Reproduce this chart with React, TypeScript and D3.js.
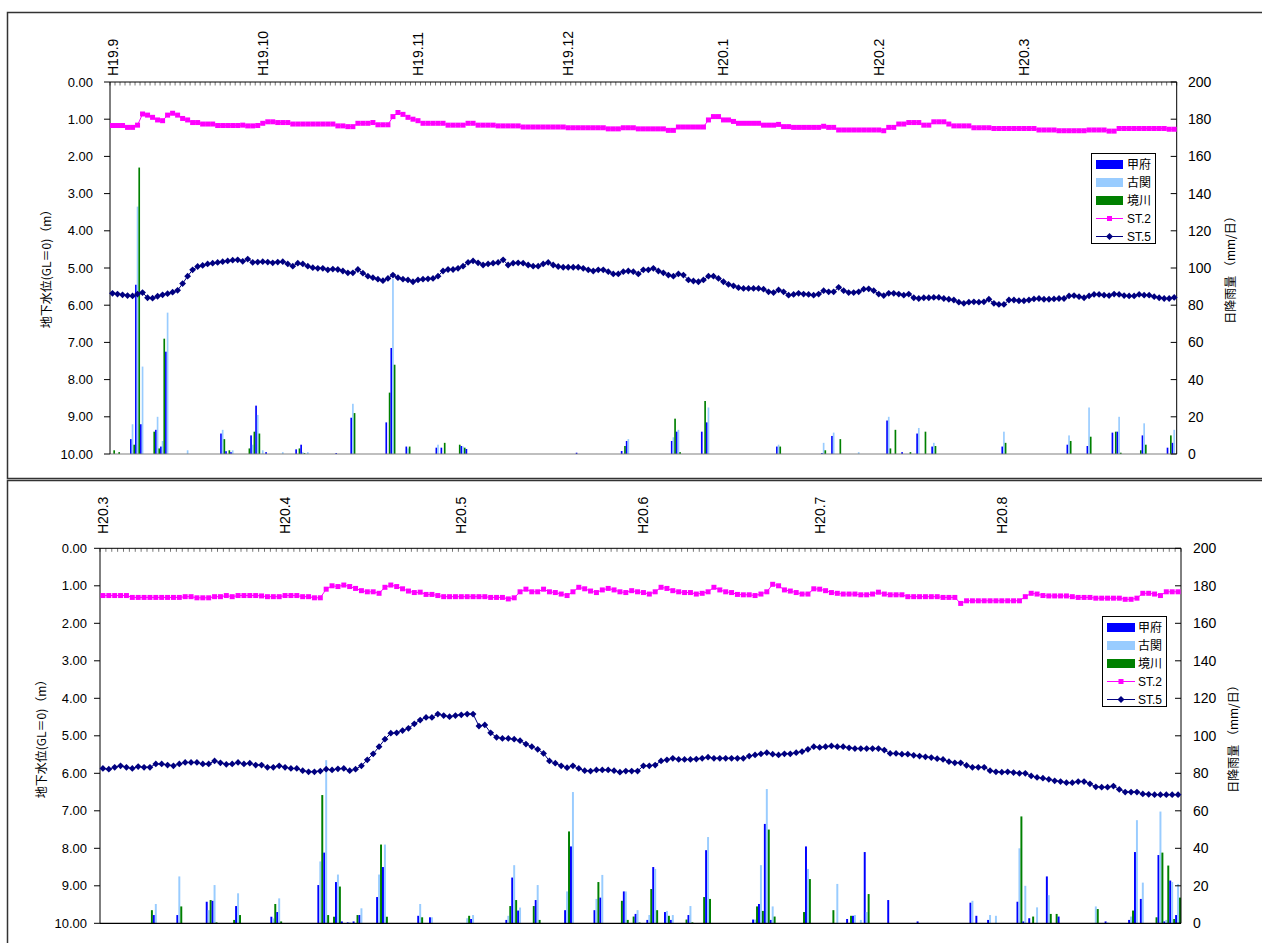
import React from "react";
import * as d3 from "d3";

const NUM_FONT = "'Liberation Sans', Arial, sans-serif";
const JP_FONT = "'Noto Sans CJK JP', 'Liberation Sans', sans-serif";

// H19.9.1 - H20.3.31 (daily), groundwater depth (m)
const topST2 = [
  1.17, 1.17, 1.17, 1.22, 1.22, 1.16,
  0.86, 0.89, 0.95, 1.02, 1.04, 0.89, 0.84, 0.89, 0.98, 1.02,
  1.09, 1.09, 1.13, 1.13, 1.13, 1.17, 1.17, 1.17, 1.17, 1.17,
  1.16, 1.18, 1.18, 1.17, 1.11, 1.07, 1.07, 1.09, 1.09, 1.09,
  1.13, 1.13, 1.13, 1.13, 1.13, 1.13, 1.13, 1.13, 1.13, 1.18,
  1.18, 1.20, 1.20, 1.11, 1.11, 1.11, 1.09, 1.15, 1.15, 1.15,
  0.93, 0.82, 0.87, 0.95, 1.00, 1.04, 1.11, 1.11, 1.11, 1.11,
  1.11, 1.16, 1.16, 1.16, 1.16, 1.11, 1.11, 1.16, 1.16, 1.16,
  1.16, 1.18, 1.18, 1.18, 1.18, 1.18, 1.21, 1.21, 1.21, 1.21,
  1.21, 1.21, 1.21, 1.21, 1.21, 1.23, 1.23, 1.23, 1.23, 1.23,
  1.23, 1.23, 1.23, 1.26, 1.26, 1.26, 1.23, 1.23, 1.23, 1.26,
  1.26, 1.26, 1.26, 1.26, 1.26, 1.30, 1.30, 1.21, 1.21, 1.21,
  1.21, 1.21, 1.21, 1.02, 0.93, 0.93, 1.02, 1.02, 1.06, 1.11,
  1.11, 1.11, 1.11, 1.11, 1.16, 1.16, 1.16, 1.14, 1.20, 1.20,
  1.22, 1.22, 1.22, 1.22, 1.22, 1.22, 1.19, 1.22, 1.22, 1.29,
  1.29, 1.29, 1.29, 1.29, 1.29, 1.29, 1.29, 1.29, 1.31, 1.22,
  1.22, 1.13, 1.13, 1.09, 1.09, 1.09, 1.16, 1.16, 1.07, 1.07,
  1.07, 1.13, 1.18, 1.18, 1.18, 1.18, 1.23, 1.23, 1.23, 1.23,
  1.25, 1.25, 1.25, 1.25, 1.25, 1.25, 1.25, 1.25, 1.25, 1.29,
  1.29, 1.29, 1.29, 1.31, 1.31, 1.31, 1.31, 1.31, 1.31, 1.29,
  1.29, 1.29, 1.29, 1.32, 1.32, 1.25, 1.25, 1.25, 1.25, 1.25,
  1.25, 1.25, 1.25, 1.25, 1.25, 1.27, 1.27,
];

const topST5 = [
  5.68, 5.70, 5.72, 5.74, 5.75, 5.70, 5.66, 5.80, 5.81, 5.76,
  5.72, 5.69, 5.65, 5.60, 5.42, 5.22, 5.05, 4.96, 4.93, 4.89,
  4.87, 4.85, 4.83, 4.81, 4.79, 4.78, 4.82, 4.76, 4.85, 4.84,
  4.83, 4.84, 4.86, 4.84, 4.83, 4.89, 4.95, 4.87, 4.89, 4.95,
  4.99, 5.01, 5.01, 5.05, 5.03, 5.04, 5.08, 5.13, 5.13, 5.04,
  5.14, 5.22, 5.26, 5.30, 5.34, 5.28, 5.19, 5.26, 5.30, 5.32,
  5.37, 5.32, 5.30, 5.29, 5.28, 5.22, 5.08, 5.04, 5.04, 5.01,
  4.95, 4.85, 4.81, 4.86, 4.92, 4.89, 4.87, 4.85, 4.78, 4.92,
  4.87, 4.86, 4.87, 4.92, 4.95, 4.95, 4.89, 4.85, 4.92, 4.96,
  4.98, 4.98, 4.98, 4.98, 5.01, 5.05, 5.08, 5.05, 5.05, 5.10,
  5.16, 5.16, 5.10, 5.08, 5.10, 5.16, 5.05, 5.05, 5.01, 5.08,
  5.13, 5.19, 5.22, 5.16, 5.19, 5.32, 5.35, 5.37, 5.32, 5.22,
  5.22, 5.28, 5.37, 5.44, 5.48, 5.53, 5.55, 5.55, 5.55, 5.55,
  5.57, 5.64, 5.66, 5.59, 5.64, 5.73, 5.71, 5.68, 5.70, 5.71,
  5.73, 5.70, 5.61, 5.64, 5.64, 5.52, 5.61, 5.66, 5.66, 5.64,
  5.57, 5.56, 5.61, 5.70, 5.74, 5.68, 5.68, 5.70, 5.73, 5.70,
  5.80, 5.82, 5.80, 5.80, 5.79, 5.79, 5.82, 5.84, 5.86, 5.92,
  5.95, 5.92, 5.91, 5.92, 5.91, 5.84, 5.95, 5.98, 5.98, 5.86,
  5.86, 5.88, 5.88, 5.86, 5.83, 5.82, 5.84, 5.84, 5.83, 5.82,
  5.82, 5.75, 5.74, 5.77, 5.80, 5.75, 5.71, 5.71, 5.73, 5.74,
  5.70, 5.71, 5.74, 5.75, 5.75, 5.71, 5.73, 5.73, 5.77, 5.80,
  5.82, 5.82, 5.79,
];

// [day index, 甲府, 古関, 境川] mm/day
const topRain = [
  [0, 0, 0, 2], [1, 0, 0, 1], [4, 8, 16, 5], [5, 91, 133, 154], [6, 16, 47, 0],
  [8, 0, 0, 12], [9, 13, 20, 3], [10, 4, 7, 62], [11, 55, 76, 0], [15, 0, 2, 0],
  [22, 11, 13, 8], [23, 1.5, 0, 2], [24, 1, 2, 0], [27, 0, 0, 3], [28, 10, 5, 12],
  [29, 26, 21, 11], [30, 0, 2, 0], [31, 1, 0, 0], [34, 0, 1, 0], [37, 2.5, 0, 3],
  [38, 5, 1, 0.5], [39, 0, 1, 0], [45, 0.5, 0, 0], [48, 19.5, 27, 22], [55, 17, 0, 33],
  [56, 57, 94, 48], [59, 4, 3, 4], [65, 3.4, 5, 0], [66, 3.4, 0, 6], [69, 0, 0, 5],
  [70, 4.3, 4, 3.4], [71, 2.7, 0, 0], [93, 0.7, 0, 0], [102, 1.6, 0, 4.3], [103, 7, 8, 0],
  [112, 7, 9, 19], [113, 12, 13, 1], [118, 12, 0, 28.5], [119, 17, 25, 0], [133, 4, 5, 4],
  [142, 0.5, 6, 2], [144, 9.7, 11.5, 0], [145, 0, 0, 8], [149, 0, 1, 0], [155, 18, 20, 3],
  [156, 0, 0, 13], [158, 1, 0, 0], [159, 0, 0, 1], [161, 11, 14, 0], [162, 0, 0, 12],
  [164, 4, 6, 4.3], [178, 4, 12, 6], [191, 5, 10, 7], [195, 4.3, 25, 9.3], [200, 11.5, 0, 12],
  [201, 12, 20, 0.7], [205, 0, 0, 2], [206, 10, 16.5, 5], [211, 3.4, 0, 10], [212, 6, 13, 0],
];

const topMonthDays = [0, 30, 61, 91, 122, 153, 182];
const topMonthLabels = ["H19.9", "H19.10", "H19.11", "H19.12", "H20.1", "H20.2", "H20.3"];

// H20.3.1 - H20.8.31 (daily)
const botST2 = [
  1.26, 1.26, 1.26, 1.26, 1.26, 1.31, 1.31, 1.31, 1.31, 1.31,
  1.31, 1.31, 1.31, 1.31, 1.29, 1.29, 1.32, 1.32, 1.32, 1.29,
  1.29, 1.26, 1.29, 1.26, 1.26, 1.26, 1.26, 1.27, 1.29, 1.29,
  1.29, 1.26, 1.26, 1.26, 1.29, 1.29, 1.32, 1.32, 1.09, 1.00,
  1.02, 0.98, 1.02, 1.07, 1.13, 1.16, 1.16, 1.20, 1.04, 0.98,
  1.02, 1.08, 1.14, 1.18, 1.17, 1.23, 1.23, 1.26, 1.29, 1.29,
  1.29, 1.29, 1.29, 1.29, 1.29, 1.29, 1.31, 1.31, 1.31, 1.35,
  1.32, 1.16, 1.09, 1.16, 1.16, 1.09, 1.16, 1.18, 1.22, 1.26,
  1.16, 1.04, 1.08, 1.14, 1.18, 1.11, 1.07, 1.11, 1.16, 1.18,
  1.13, 1.16, 1.18, 1.22, 1.16, 1.04, 1.07, 1.13, 1.16, 1.18,
  1.18, 1.22, 1.20, 1.16, 1.04, 1.11, 1.16, 1.18, 1.23, 1.24,
  1.24, 1.26, 1.22, 1.16, 0.96, 1.00, 1.11, 1.14, 1.18, 1.22,
  1.22, 1.08, 1.09, 1.13, 1.18, 1.20, 1.22, 1.22, 1.22, 1.24,
  1.24, 1.22, 1.17, 1.22, 1.24, 1.24, 1.24, 1.29, 1.29, 1.29,
  1.29, 1.29, 1.29, 1.31, 1.31, 1.31, 1.47, 1.40, 1.40, 1.40,
  1.40, 1.40, 1.40, 1.40, 1.40, 1.40, 1.40, 1.29, 1.20, 1.22,
  1.26, 1.27, 1.27, 1.27, 1.27, 1.29, 1.31, 1.31, 1.31, 1.33,
  1.33, 1.33, 1.33, 1.33, 1.36, 1.36, 1.33, 1.20, 1.20, 1.22,
  1.26, 1.16, 1.16, 1.16,
];

const botST5 = [
  5.87, 5.89, 5.84, 5.80, 5.84, 5.87, 5.82, 5.84, 5.84, 5.75,
  5.75, 5.78, 5.80, 5.75, 5.71, 5.71, 5.71, 5.75, 5.75, 5.67,
  5.72, 5.76, 5.75, 5.71, 5.75, 5.73, 5.78, 5.78, 5.84, 5.84,
  5.80, 5.84, 5.87, 5.87, 5.93, 5.96, 5.96, 5.94, 5.89, 5.91,
  5.88, 5.87, 5.93, 5.89, 5.80, 5.64, 5.48, 5.29, 5.09, 4.93,
  4.92, 4.86, 4.80, 4.68, 4.58, 4.51, 4.51, 4.42, 4.46, 4.49,
  4.46, 4.44, 4.42, 4.42, 4.74, 4.71, 4.92, 5.04, 5.07, 5.07,
  5.09, 5.13, 5.22, 5.29, 5.36, 5.47, 5.67, 5.73, 5.80, 5.85,
  5.80, 5.87, 5.93, 5.94, 5.91, 5.91, 5.91, 5.93, 5.97, 5.94,
  5.94, 5.94, 5.80, 5.80, 5.78, 5.67, 5.64, 5.60, 5.63, 5.63,
  5.63, 5.62, 5.60, 5.57, 5.60, 5.60, 5.60, 5.60, 5.60, 5.60,
  5.54, 5.51, 5.48, 5.45, 5.49, 5.51, 5.48, 5.48, 5.45, 5.42,
  5.36, 5.29, 5.31, 5.29, 5.27, 5.29, 5.29, 5.32, 5.34, 5.34,
  5.34, 5.34, 5.34, 5.38, 5.47, 5.47, 5.49, 5.49, 5.52, 5.54,
  5.56, 5.58, 5.61, 5.63, 5.69, 5.72, 5.72, 5.79, 5.84, 5.84,
  5.84, 5.93, 5.96, 5.97, 5.96, 5.98, 6.00, 6.00, 6.07, 6.11,
  6.13, 6.16, 6.20, 6.22, 6.25, 6.25, 6.22, 6.22, 6.28, 6.36,
  6.37, 6.37, 6.34, 6.43, 6.50, 6.50, 6.50, 6.55, 6.56, 6.57,
  6.57, 6.57, 6.57, 6.57,
];

const botRain = [
  [8, 0, 0, 7], [9, 4.4, 10.3, 0], [13, 4.4, 25, 9], [18, 11.5, 7, 12.4], [19, 12, 20.4, 0.5],
  [22, 0, 0, 1.8], [23, 9.2, 16, 4.4], [29, 3.5, 2.6, 10.3], [30, 6, 13.3, 1], [37, 20.4, 33, 68.4],
  [38, 37.7, 87, 4.4], [39, 0, 0, 3.5], [40, 22, 26, 19.6], [41, 1, 0, 0], [42, 0.5, 0.5, 0],
  [43, 1, 0, 4.4], [44, 4.4, 8, 0], [47, 14, 26, 42], [48, 30, 42, 3.5], [54, 4, 10.3, 3.2],
  [56, 3.2, 3.2, 0], [62, 0, 2.7, 4], [63, 2.3, 4.4, 0], [69, 1.8, 4, 9.2], [70, 24.4, 31, 12.4],
  [71, 6.8, 8.4, 0], [73, 0, 0, 9.2], [74, 12.4, 20.4, 1.8], [79, 7, 17, 49], [80, 41, 70, 0],
  [84, 7, 13, 22], [85, 13.7, 25.8, 0], [88, 0, 0, 12], [89, 17, 17, 1.8], [90, 0, 0, 3.6],
  [91, 5, 7, 0.4], [93, 1.8, 4.4, 18.3], [94, 30, 29, 7], [96, 6, 6.6, 4], [97, 1.8, 4.4, 0],
  [99, 0, 0, 2], [100, 4.4, 9.2, 0.5], [102, 0, 0, 14], [103, 39, 46, 13], [111, 2, 2, 9],
  [112, 10.3, 31, 6.6], [113, 53, 71.6, 50], [114, 1.8, 9, 3.6], [119, 0, 0, 6], [120, 41, 29, 23.6],
  [124, 0, 0, 7], [125, 0, 21, 0], [127, 2.3, 0, 4], [128, 4, 4.4, 0], [129, 0, 1.8, 0],
  [130, 38, 6, 15.6], [134, 12.4, 0, 0], [139, 1, 0, 0], [148, 11, 12, 0], [149, 4, 0, 0],
  [151, 1.8, 4.4, 0], [152, 0, 4, 0], [156, 11.5, 40, 57], [157, 1, 20, 0], [158, 2.7, 0, 3.6],
  [159, 0, 8.5, 0], [161, 25, 15, 5], [162, 0, 0, 5], [163, 3.6, 0, 0], [169, 0, 9, 7.6],
  [171, 1, 0.5, 0], [175, 1.8, 3.6, 6.8], [176, 38, 55, 0], [177, 13, 21.7, 0], [179, 0, 0, 3.2],
  [180, 36.4, 59.6, 37.7], [181, 1, 1.8, 30.8], [182, 22.8, 22, 2.3], [183, 4.4, 21, 13.7],
];

const botMonthDays = [0, 31, 61, 92, 122, 153];
const botMonthLabels = ["H20.3", "H20.4", "H20.5", "H20.6", "H20.7", "H20.8"];

const rainNames = ["甲府", "古関", "境川"];
const rainColors = ["#0000ff", "#99ccff", "#008000"];
const levelTicks = d3.range(0, 11);
const rainTicks = d3.range(0, 201, 20);

const ST2_COLOR = "#ff00ff";
const ST5_COLOR = "#000080";

const diamond = (x, y, r) => `M${x},${y - r}L${x + r},${y}L${x},${y + r}L${x - r},${y}Z`;

function Legend({ x, y, w, h, rowH, swX, swW, textX }) {
  const rows = [0, 1, 2, 3, 4].map((i) => y + 11 + i * rowH);
  return (
    <g>
      <rect x={x} y={y} width={w} height={h} fill="#fff" stroke="#000" strokeWidth={1} />
      {rainColors.map((c, i) => (
        <rect key={c} x={swX} y={rows[i] - 4.5} width={swW} height={9} fill={c} />
      ))}
      <line x1={swX} x2={swX + swW} y1={rows[3]} y2={rows[3]} stroke={ST2_COLOR} />
      <rect x={swX + swW / 2 - 2.5} y={rows[3] - 2.5} width={5} height={5} fill={ST2_COLOR} />
      <line x1={swX} x2={swX + swW} y1={rows[4]} y2={rows[4]} stroke={ST5_COLOR} />
      <path d={diamond(swX + swW / 2, rows[4], 3.5)} fill={ST5_COLOR} />
      {["甲府", "古関", "境川", "ST.2", "ST.5"].map((t, i) => (
        <text key={t} x={textX} y={rows[i]} dy="0.36em" fontSize={12}
          fontFamily={i < 3 ? JP_FONT : NUM_FONT}>{t}</text>
      ))}
    </g>
  );
}

function Panel({ cfg }) {
  const { left, right, top, bottom, days, st2, st5, rain, monthDays, monthLabels } = cfg;
  const x = d3.scaleLinear().domain([0, days]).range([left, right]);
  const y = d3.scaleLinear().domain([0, 10]).range([top, bottom]);
  const r = d3.scaleLinear().domain([0, 200]).range([bottom, top]);
  const dayW = x(1) - x(0);
  const barW = dayW / 3;
  const cx = (i) => x(i) + dayW / 2;
  const line = d3.line().x((d, i) => cx(i)).y((d) => y(d));

  return (
    <g>
      {/* daily tick marks along the top axis */}
      {d3.range(0, days + 1).map((i) => (
        <line key={"t" + i} x1={x(i)} x2={x(i)} y1={top} y2={top + 3.5} stroke="#777" strokeWidth={1} />
      ))}
      {/* rain bars */}
      {rain.map(([d, ...vals]) =>
        vals.map((v, k) =>
          v > 0 ? (
            <rect key={`r${d}-${k}`} x={x(d) + k * barW} y={r(v)} width={barW}
              height={r(0) - r(v)} fill={rainColors[k]} />
          ) : null
        )
      )}
      {/* frame */}
      <line x1={left} x2={right} y1={top} y2={top} stroke="#000" />
      <line x1={left} x2={right} y1={bottom} y2={bottom} stroke={cfg.bottomColor} strokeWidth={1.2} />
      <line x1={left} x2={left} y1={top} y2={bottom} stroke="#000" />
      <line x1={right} x2={right} y1={top} y2={bottom} stroke="#000" />
      {/* left axis */}
      {levelTicks.map((t) => (
        <g key={"l" + t}>
          <line x1={left - 6} x2={left} y1={y(t)} y2={y(t)} stroke="#000" />
          <text x={cfg.leftLabelX} y={y(t)} dy="0.36em" textAnchor="end" fontSize={13}
            fontFamily={NUM_FONT}>{d3.format(".2f")(t)}</text>
        </g>
      ))}
      {/* right axis */}
      {rainTicks.map((t) => (
        <g key={"r" + t}>
          <line x1={right - 6} x2={right} y1={r(t)} y2={r(t)} stroke="#000" />
          <text x={cfg.rightLabelX} y={r(t)} dy="0.36em" fontSize={14}
            fontFamily={NUM_FONT}>{t}</text>
        </g>
      ))}
      {/* month labels */}
      {monthDays.map((d, i) => (
        <text key={"m" + i} transform={`translate(${cx(d)},${cfg.monthY}) rotate(-90)`}
          dominantBaseline="central" fontSize={14} fontFamily={NUM_FONT}>{monthLabels[i]}</text>
      ))}
      {/* axis titles */}
      <text transform={`translate(${cfg.leftTitle[0]},${cfg.leftTitle[1]}) rotate(-90)`}
        textAnchor="middle" dominantBaseline="central" fontSize={12} fontFamily={JP_FONT}>
        地下水位(GL＝0)（m）
      </text>
      <text transform={`translate(${cfg.rightTitle[0]},${cfg.rightTitle[1]}) rotate(-90)`}
        textAnchor="middle" dominantBaseline="central" fontSize={12} fontFamily={JP_FONT}>
        日降雨量 （mm/日）
      </text>
      {/* groundwater lines */}
      <path d={line(st2)} fill="none" stroke={ST2_COLOR} strokeWidth={1} />
      {st2.map((v, i) => (
        <rect key={"s2" + i} x={cx(i) - 2.5} y={y(v) - 2.5} width={5} height={5} fill={ST2_COLOR} />
      ))}
      <path d={line(st5)} fill="none" stroke={ST5_COLOR} strokeWidth={1} />
      {st5.map((v, i) => (
        <path key={"s5" + i} d={diamond(cx(i), y(v), 3.4)} fill={ST5_COLOR} />
      ))}
      <Legend {...cfg.legend} />
    </g>
  );
}

const topCfg = {
  left: 110, right: 1176.7, top: 82, bottom: 454, days: 213,
  st2: topST2, st5: topST5, rain: topRain,
  monthDays: topMonthDays, monthLabels: topMonthLabels,
  leftLabelX: 93, rightLabelX: 1188, monthY: 76, bottomColor: "#808080",
  leftTitle: [45, 266], rightTitle: [1229, 267],
  legend: { x: 1091.5, y: 153.5, w: 64, h: 90, rowH: 18, swX: 1096, swW: 27, textX: 1127 },
};

const botCfg = {
  left: 100, right: 1181, top: 548.3, bottom: 923.3, days: 184,
  st2: botST2, st5: botST5, rain: botRain,
  monthDays: botMonthDays, monthLabels: botMonthLabels,
  leftLabelX: 87, rightLabelX: 1193, monthY: 534, bottomColor: "#000",
  leftTitle: [40, 736], rightTitle: [1232, 736],
  legend: { x: 1102.5, y: 616.5, w: 64, h: 90, rowH: 18, swX: 1107, swW: 28, textX: 1138 },
};

export default function App() {
  return (
    <svg width={1262} height={943} style={{ position: "absolute", left: 0, top: 0, background: "#fff" }}>
      <rect x={0} y={0} width={1262} height={943} fill="#fff" />
      <rect x={7.5} y={12.5} width={1270} height={466} fill="none" stroke="#333" strokeWidth={1.5} />
      <rect x={7.5} y={480.5} width={1270} height={480} fill="none" stroke="#333" strokeWidth={1.5} />
      <Panel cfg={topCfg} />
      <Panel cfg={botCfg} />
    </svg>
  );
}
